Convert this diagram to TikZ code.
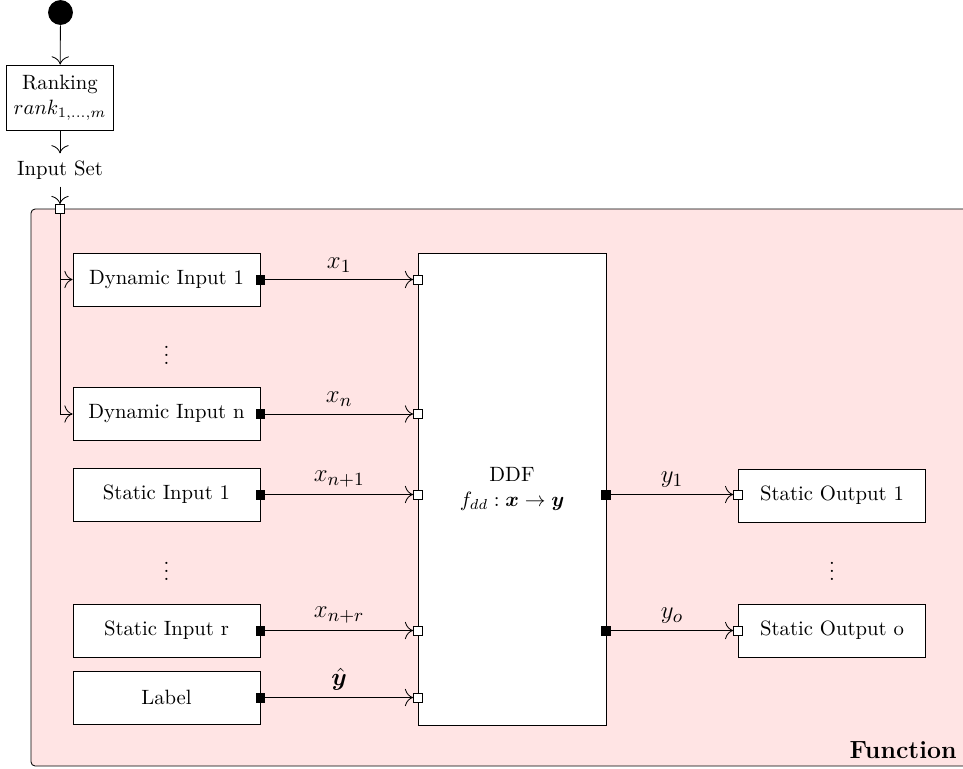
\documentclass[tikz,border=0pt]{standalone}
\usepackage{amsmath}
\usepackage{bm}
\usepackage{tikz}
\usetikzlibrary{arrows.meta, positioning}
\definecolor{funcpink}{RGB}{255,228,228}

\begin{document}
\begin{tikzpicture}[
    x=0.4831pt, y=-0.4831pt,
    box/.style={draw, fill=white, minimum width=90.3pt,
                minimum height=25.6pt, align=center},
    ddfbox/.style={draw, fill=white, minimum width=90.8pt,
                   minimum height=228pt, align=center},
    portin/.style={draw, fill=white, minimum size=4.3pt, inner sep=0pt},
    portout/.style={draw, fill=black, minimum size=4.3pt, inner sep=0pt},
    lbl/.style={font=\fontsize{13}{15}\selectfont},
    arr/.style={-{To[scale=1.6]}}
  ]
  \useasboundingbox (0,0) rectangle (963,769);

  % function frame
  \draw[fill=funcpink, rounded corners=2pt] (31,209) rectangle (990,766);
  \node[font=\large\bfseries, anchor=base east, inner sep=0pt] (funclbl)
    at (957,758) {Function};

  % ranking part
  \node[circle, fill=black, minimum size=12pt, inner sep=0pt] (start) at (60.5,12.5) {};
  \node[draw, align=center, minimum height=31.4pt] (rank) at (60,97.5)
    {Ranking\\$rank_{1,\dots,m}$};
  \node (inset) at (60,170) {Input Set};
  \node[portin] (setin) at (60,209) {};

  \draw[arr] (start) -- (rank);
  \draw[arr] (rank) -- (inset);
  \draw[arr] (inset) -- (setin);

  % inputs
  \node[box] (dyn1) at (166.5,279.5) {Dynamic Input 1};
  \node (dots1) at (166.5,349) {$\vdots$};
  \node[box] (dynn) at (166.5,414) {Dynamic Input n};
  \node[box] (sta1) at (166.5,494.5) {Static Input 1};
  \node (dots2) at (166.5,565) {$\vdots$};
  \node[box] (star) at (166.5,630.5) {Static Input r};
  \node[box] (label) at (166.5,697.5) {Label};

  % DDF
  \node[ddfbox] (ddf) at (512,489) {DDF\\$f_{dd} : \bm{x} \to \bm{y}$};

  % outputs
  \node[box] (out1) at (832,495.5) {Static Output 1};
  \node (dots3) at (832,565) {$\vdots$};
  \node[box] (outo) at (832,630.5) {Static Output o};

  % ports
  \foreach \n in {dyn1, dynn, sta1, star, label}
    \node[portout] (\n-o) at (\n.east |- \n) {};
  \foreach \n/\y in {dyn1/279.5, dynn/414, sta1/494.5, star/630.5, label/697.5}
    \node[portin] (ddf-\n) at (418,\y) {};
  \node[portout] (ddf-o1) at (606,494.5) {};
  \node[portout] (ddf-oo) at (606,630.5) {};
  \node[portin] (out1-i) at (out1.west |- ddf-o1) {};
  \node[portin] (outo-i) at (outo.west |- ddf-oo) {};

  % input set to dynamic inputs
  \draw[arr] (setin) |- (dyn1);
  \draw[arr] (setin) |- (dynn);

  % connections
  \draw[arr] (dyn1-o) -- node[above, lbl] {$x_1$} (ddf-dyn1);
  \draw[arr] (dynn-o) -- node[above, lbl] {$x_n$} (ddf-dynn);
  \draw[arr] (sta1-o) -- node[above, lbl] {$x_{n+1}$} (ddf-sta1);
  \draw[arr] (star-o) -- node[above, lbl] {$x_{n+r}$} (ddf-star);
  \draw[arr] (label-o) -- node[above, lbl] {$\hat{\bm{y}}$} (ddf-label);
  \draw[arr] (ddf-o1) -- node[above, lbl] {$y_1$} (out1-i);
  \draw[arr] (ddf-oo) -- node[above, lbl] {$y_o$} (outo-i);

\end{tikzpicture}
\end{document}
